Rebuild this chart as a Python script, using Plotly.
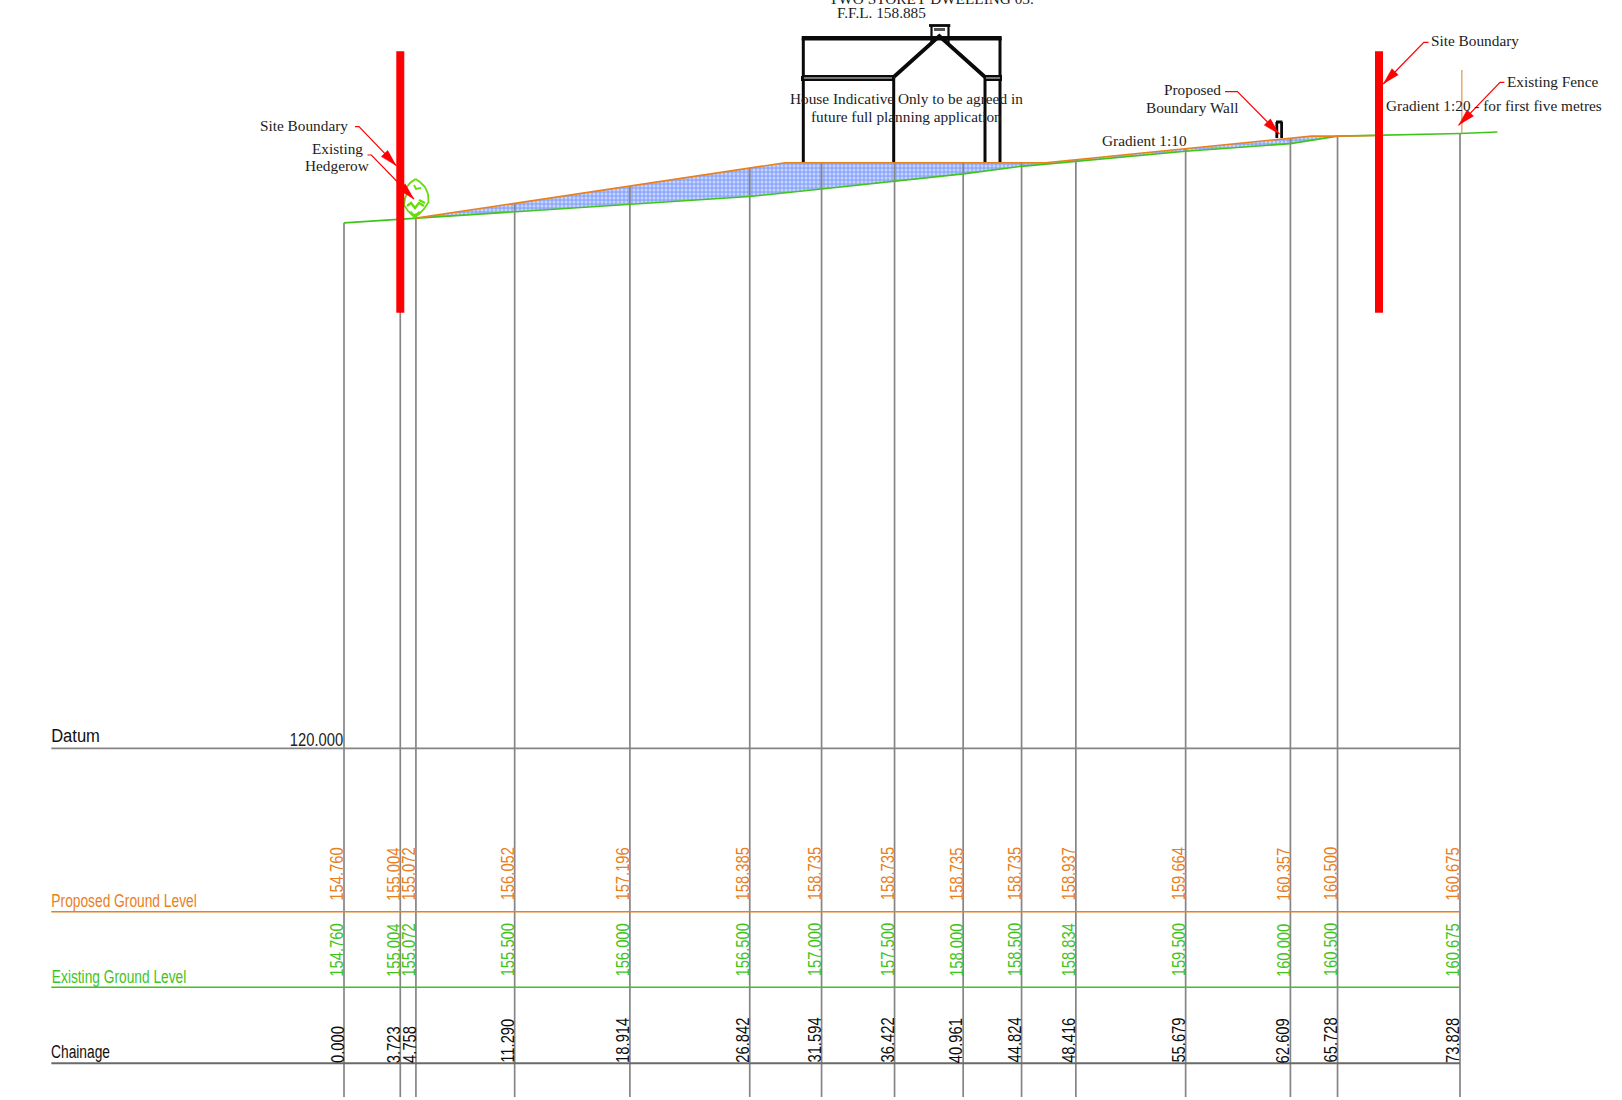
import json
import plotly.graph_objects as go

# ---- data ----
chainage = [0.000, 3.723, 4.758, 11.290, 18.914, 26.842, 31.594, 36.422, 40.961, 44.824, 48.416, 55.679, 62.609, 65.728, 73.828]
proposed = [154.760, 155.004, 155.072, 156.052, 157.196, 158.385, 158.735, 158.735, 158.735, 158.735, 158.937, 159.664, 160.357, 160.500, 160.675]
existing = [154.760, 155.004, 155.072, 155.500, 156.000, 156.500, 157.000, 157.500, 158.000, 158.500, 158.834, 159.500, 160.000, 160.500, 160.675]
datum_level = 120.0
# graded surface as actually drawn (includes unlabelled break points)
graded_chain = [4.758, 26.842, 29.170, 46.400, 48.416, 55.679, 62.609, 64.000, 65.728, 68.470]
graded_level = [155.072, 158.385, 158.735, 158.735, 158.937, 159.664, 160.357, 160.500, 160.500, 160.540]
ground_end_chain = [76.300]
ground_end_level = [160.770]
boundary_chain = [3.723, 68.470]
fence_chain = [73.950]

W, H = 1622, 1100
X0, SCALE, Y_DATUM = 344.0, 15.116, 748.3
ORANGE, GREEN, GREY, RED = "#e8801e", "#3fc41c", "#858585", "#ff0000"
SANS = "Liberation Sans"
SERIF = "Liberation Serif"
SERIF_SIZE = 15.3
NARROW = 0.82

def cx(p): return (p - X0) / SCALE
def cy(p): return datum_level + (Y_DATUM - p) / SCALE

fig = go.Figure()

def line(xs, ys, color, width):
    fig.add_trace(go.Scatter(x=xs, y=ys, mode="lines", hoverinfo="skip", showlegend=False,
                             line=dict(color=color, width=width)))

def pline(pts, color, width):
    line([cx(p[0]) for p in pts], [cy(p[1]) for p in pts], color, width)

def ppoly(pts, color):
    fig.add_trace(go.Scatter(x=[cx(p[0]) for p in pts], y=[cy(p[1]) for p in pts], mode="lines",
                             fill="toself", fillcolor=color, hoverinfo="skip", showlegend=False,
                             line=dict(color=color, width=0.5)))

# cut / fill hatch
grid_top = list(zip(graded_chain, graded_level))[:-2]
ex_part = [(c, e) for c, e in zip(chainage, existing) if 4.758 <= c <= 65.728]
hx = [p[0] for p in grid_top] + [p[0] for p in ex_part[::-1]]
hy = [p[1] for p in grid_top] + [p[1] for p in ex_part[::-1]]
fig.add_trace(go.Scatter(x=hx, y=hy, mode="none", fill="toself", hoverinfo="skip", showlegend=False,
                         fillcolor="#8ea8fb",
                         fillpattern=dict(shape=".", bgcolor="#8ea8fb", fgcolor="#ffffff", size=4, solidity=0.45)))

# station verticals
y_bottom = cy(1097)
for c, p, e in zip(chainage, proposed, existing):
    line([c, c], [max(p, e), y_bottom], GREY, 1.7)

# table rules
x_left = cx(51.3)
line([x_left, chainage[-1]], [datum_level, datum_level], GREY, 1.7)
line([x_left, chainage[-1]], [cy(911.7)] * 2, ORANGE, 1.4)
line([x_left, chainage[-1]], [cy(987.3)] * 2, GREEN, 1.4)
line([x_left, chainage[-1]], [cy(1063.3)] * 2, "#6a6a6a", 1.9)

# ground lines
line(chainage + ground_end_chain, existing + ground_end_level, GREEN, 1.6)
line(graded_chain, graded_level, ORANGE, 1.6)

# fence
line(fence_chain * 2, [cy(70), cy(133)], "#e2a468", 1.4)

# house
K = "#0a0a0a"
pline([(801.7, 38.3), (1001.7, 38.3)], K, 4.4)
pline([(803.3, 38), (803.3, 162)], K, 3)
pline([(1000, 38), (1000, 162)], K, 3)
pline([(893.7, 78), (893.7, 162)], K, 3)
pline([(985, 78), (985, 162)], K, 3)
pline([(802, 76), (893, 76), (893, 80), (802, 80), (802, 76)], K, 2)
pline([(985, 76), (1001, 76), (1001, 80), (985, 80), (985, 76)], K, 2)
pline([(804, 78), (892, 78)], "#777777", 2)
pline([(986, 78), (1000, 78)], "#777777", 2)
pline([(893.7, 77), (939.3, 36), (985, 77)], K, 3.8)
pline([(929, 25.5), (950.3, 25.5)], K, 2.8)
pline([(931.5, 26), (931.5, 43)], K, 2.2)
pline([(948.5, 26), (948.5, 43)], K, 2.2)
pline([(934, 29.5), (945, 29.5)], "#555555", 3)

# boundary wall
pline([(1276.8, 122), (1276.8, 138)], K, 2.8)
pline([(1281.6, 122), (1281.6, 138)], K, 2.8)
pline([(1276, 122), (1282.4, 122)], K, 3)

# hedgerow
HEDGE = "#66dc08"
pline([(415.5, 179), (410, 183), (406, 188), (408, 192), (405, 198), (404, 205), (408, 211), (413, 215),
       (419, 214), (424, 209), (428.5, 202), (428, 194), (425, 187), (420, 182), (415.5, 179)], HEDGE, 1.8)
pline([(414, 185), (416, 189), (421, 188)], HEDGE, 1.8)
pline([(407, 206), (411, 203), (415, 208), (419, 203), (424, 206)], HEDGE, 2.4)
pline([(410, 212), (415, 217), (420, 212)], HEDGE, 3)
pline([(419, 200), (425, 203)], HEDGE, 2)

# boundary posts
for b in boundary_chain:
    line([b, b], [cy(51.3), cy(312.7)], RED, 8)

# leaders with arrow heads
def leader(pts, head_len=17, head_half=4.5):
    pline(pts, RED, 1.2)
    (x1, y1), (x2, y2) = pts[-2], pts[-1]
    d = ((x2 - x1) ** 2 + (y2 - y1) ** 2) ** 0.5
    ux, uy = (x2 - x1) / d, (y2 - y1) / d
    bx, by = x2 - ux * head_len, y2 - uy * head_len
    ppoly([(x2, y2), (bx - uy * head_half, by + ux * head_half), (bx + uy * head_half, by - ux * head_half)], RED)

leader([(355, 126.7), (359, 126.7), (396.4, 165.7)])
leader([(367.5, 155), (371.4, 155), (414, 199)])
leader([(1428.5, 42.3), (1423.8, 42.3), (1383.3, 84)])
leader([(1225, 91.7), (1237.4, 91.7), (1279.4, 134)])
leader([(1504.4, 82.3), (1500, 82.3), (1458.6, 125.3)])

# ---- text ----
ann = []
def txt(x, y, s, size=SERIF_SIZE, family=SERIF, color="#1c1c1c"):
    ann.append(dict(xref="paper", yref="paper", x=x / W, y=1 - y / H, text=s, showarrow=False,
                    xanchor="center", yanchor="middle", borderpad=0, borderwidth=0,
                    font=dict(family=family, size=size, color=color)))

txt(931, -1, "TWO STOREY DWELLING 03.")
txt(881.5, 12.5, "F.F.L. 158.885")
txt(906, 98.5, "House Indicative Only to be agreed in")
txt(906.5, 116.2, "future full planning application")
txt(304, 126, "Site Boundary")
txt(337, 148.3, "Existing")
txt(337, 166, "Hedgerow")
txt(1474.7, 41, "Site Boundary")
txt(1192.5, 90, "Proposed")
txt(1192, 108, "Boundary Wall")
txt(1144.6, 140.3, "Gradient 1:10")
txt(1552.5, 81.3, "Existing Fence")
txt(1494, 105.5, "Gradient 1:20 - for first five metres")

# row titles: widths as measured on the drawing
row_widths = {"Datum": 48.7, "Proposed Ground Level": 145.4, "Existing Ground Level": 134.4, "Chainage": 59}
txt(75.7, 736, "Datum", 18, SANS, "#111111")
txt(124, 900.5, "Proposed Ground Level", 18, SANS, ORANGE)
txt(118.5, 976.5, "Existing Ground Level", 18, SANS, GREEN)
txt(80.8, 1051.5, "Chainage", 18, SANS, "#111111")
txt(316, 740, "120.000", 18, SANS, "#222222")

def vlabels(values, base_px, color):
    for c, v in zip(chainage, values):
        s = f"{v:.3f}"
        length = (sum(ch.isdigit() for ch in s) * 0.556 + 0.278) * 18 * NARROW
        ann.append(dict(xref="x", yref="paper", x=c, y=1 - (base_px - length / 2) / H, text=s, textangle=-90,
                        showarrow=False, xanchor="right", yanchor="middle", xshift=4.5, borderpad=0,
                        font=dict(family=SANS, size=18, color=color)))

vlabels(proposed, 900.7, ORANGE)
vlabels(existing, 976.7, GREEN)
vlabels(chainage, 1063, "#0c0c0c")

fig.update_layout(
    width=W, height=H, margin=dict(l=0, r=0, t=0, b=0), paper_bgcolor="white", plot_bgcolor="white",
    showlegend=False, annotations=ann,
    xaxis=dict(visible=False, range=[cx(0), cx(W)], fixedrange=True),
    yaxis=dict(visible=False, range=[cy(H), cy(0)], fixedrange=True),
)
narrow_js = """
document.body.style.margin='0';document.body.style.overflow='hidden';
var rowWidths = %s;
document.querySelectorAll('.annotation-text').forEach(function(t){
  if(t.style.fontFamily.indexOf('Sans')>=0){
    var w = rowWidths[t.textContent] || t.getComputedTextLength()*%s;
    t.setAttribute('textLength', w);
    t.setAttribute('lengthAdjust','spacingAndGlyphs');
  }
});
""" % (json.dumps(row_widths), NARROW)
fig.write_html("out.html", post_script=narrow_js, config={"displayModeBar": False})
